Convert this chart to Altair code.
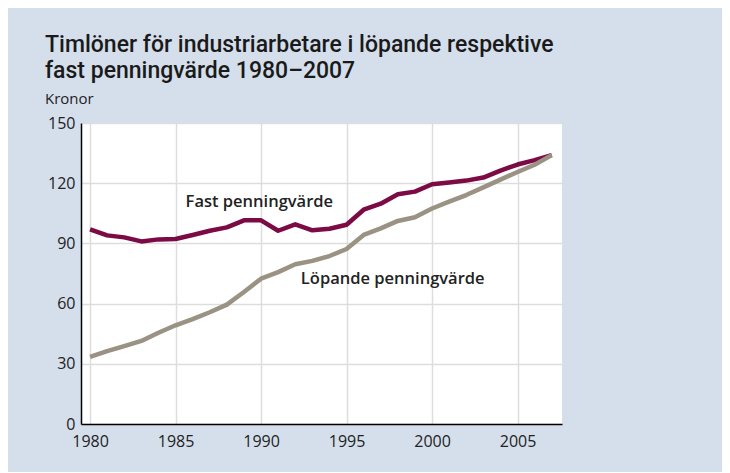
import altair as alt
import pandas as pd

years = list(range(1980, 2008))
fast = [97.0, 94.0, 93.0, 91.0, 92.0, 92.2, 94.2, 96.3, 98.0, 101.5,
        101.5, 96.3, 99.5, 96.5, 97.3, 99.3, 106.8, 109.8, 114.5, 115.8,
        119.5, 120.4, 121.3, 122.8, 126.3, 129.3, 131.5, 134.0]
lopande = [33.5, 36.3, 38.8, 41.4, 45.5, 49.2, 52.3, 55.7, 59.5, 65.8,
           72.4, 75.7, 79.6, 81.3, 83.7, 87.2, 94.2, 97.5, 101.2, 103.0,
           107.4, 110.8, 114.1, 117.9, 121.8, 125.6, 129.2, 134.0]
series_names = ["Fast penningvärde", "Löpande penningvärde"]
label_year = [1989.9, 1997.7]
label_value = [110.6, 72.3]
x_ticks = [1980, 1985, 1990, 1995, 2000, 2005]
y_ticks = [0, 30, 60, 90, 120, 150]

df = pd.DataFrame({
    "year": years * 2,
    "value": fast + lopande,
    "series": [series_names[0]] * len(years) + [series_names[1]] * len(years),
})
labels = pd.DataFrame({"year": label_year, "value": label_value, "label": series_names})

FONT = "Roboto"
AX_FONT = "Open Sans"

x_enc = alt.X("year:Q",
              scale=alt.Scale(domain=[1979.47, 2007.6], nice=False, zero=False),
              axis=alt.Axis(values=x_ticks, format="d", title=None, labelPadding=9))
y_enc = alt.Y("value:Q",
              scale=alt.Scale(domain=[0, 150], nice=False),
              axis=alt.Axis(values=y_ticks, title=None, labelPadding=6))

lines = alt.Chart(df).mark_line(strokeWidth=4.5, strokeJoin="round").encode(
    x=x_enc, y=y_enc,
    color=alt.Color("series:N",
                    scale=alt.Scale(domain=series_names, range=["#7b0a45", "#9a9283"]),
                    legend=None),
)

text = alt.Chart(labels).mark_text(
    fontSize=16.5, fontWeight=600, font=AX_FONT, color="#222222", align="center", baseline="middle"
).encode(x=alt.X("year:Q"), y=alt.Y("value:Q"), text="label:N")

chart = alt.layer(lines, text).properties(
    width=481, height=301,
    autosize="none",
    padding={"left": 73, "top": 115, "right": 160, "bottom": 48},
    background="#d5dfec",
    title=alt.TitleParams(
        text=["Timlöner för industriarbetare i löpande respektive",
              "fast penningvärde 1980–2007"],
        subtitle="Kronor",
        anchor="start", frame="group", dx=-36, offset=8,
        font=FONT, fontSize=23, fontWeight=500, color="#1a1a1a", lineHeight=26,
        subtitleFont=AX_FONT, subtitleFontSize=15, subtitleColor="#222222",
        subtitlePadding=9,
    ),
).configure_view(fill="white", stroke=None).configure_axis(
    domainColor="black", domainWidth=1.5, grid=True, gridColor="#dddddd", gridWidth=1.5,
    ticks=False, labelFont=AX_FONT, labelFontSize=16, labelColor="#222222",
)

chart.save("out.html", embed_options={"renderer": "svg", "actions": False})
